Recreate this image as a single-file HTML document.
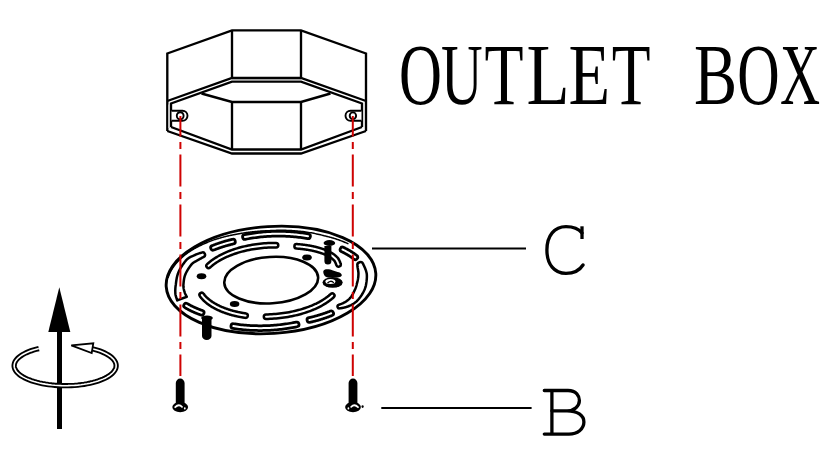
<!DOCTYPE html>
<html><head><meta charset="utf-8"><style>
html,body{margin:0;padding:0;background:#fff;width:837px;height:450px;overflow:hidden}
svg{display:block}

</style></head><body>
<svg width="837" height="450" viewBox="0 0 837 450">
<rect width="837" height="450" fill="#fff"/>

<g fill="none" stroke="#000" stroke-width="2.35" stroke-linejoin="miter">
 <path d="M167.3,131 V53.5 L232,30.3 H301 L366,53.5 V131"/>
 <path d="M232,30 V78 M301,30 V78"/>
 <path d="M167.3,101 L232,78 H301 L366,101"/>
 <path d="M171,127 V103.5 L232,81.6 H301 L362,103.5 V127"/>
 <path d="M232,79.8 H301" stroke="#999" stroke-width="1"/>
 <path d="M169,104.5 V128" stroke="#c8c8c8" stroke-width="1.6"/>
 <path d="M201.5,93.5 L232,102 H301 L330.5,93.5"/>
 <path d="M232,102 V149.5 M301,102 V149.5"/>
 <path d="M171,127 L232,149.5 H301 L362,127"/>
 <path d="M167.3,131 L232,153.5 H301 L366,131"/>
</g>
<g fill="#fff" stroke="#000" stroke-width="1.9">
 <path d="M171.5,110.8 H182.5 A5,5 0 0 1 182.5,120.8 H171.5"/>
 <ellipse cx="180.2" cy="115.8" rx="3.4" ry="3.6" stroke-width="1.9"/>
 <path d="M361.5,110.8 H350.5 A5,5 0 0 0 350.5,120.8 H361.5"/>
 <ellipse cx="352.9" cy="115.8" rx="3.2" ry="3.4" stroke-width="1.9"/>
</g>
<g fill="none" stroke="#000" stroke-linecap="round" stroke-linejoin="round"><ellipse cx="271.0" cy="280.0" rx="105" ry="53.5" transform="rotate(-3.60 271.0 280.0)" fill="#fff" stroke-width="2.9"/><path d="M168.25,277.25 L168.48,276.55 L168.72,275.86 L168.97,275.17 L169.25,274.47 L169.54,273.78 L169.85,273.09 L170.18,272.40 L170.52,271.72 L170.88,271.03 L171.26,270.35 L171.65,269.67 L172.06,268.99 L172.49,268.31 L172.94,267.64 L173.40,266.96 L173.88,266.29 L174.37,265.63 L174.88,264.96 L175.41,264.30 L175.96,263.64 L176.51,262.99 L177.09,262.33 L177.68,261.68 L178.29,261.04 L178.91,260.40 L179.55,259.76 L180.20,259.12 L180.87,258.49 L181.56,257.86 L182.26,257.24 L182.97,256.62 L183.70,256.01 L184.44,255.40 L185.20,254.79 L185.97,254.19 L186.76,253.59 L187.56,253.00 L188.38,252.42 L189.21,251.83 L190.05,251.26 L190.58,250.92 L191.12,250.59 L191.67,250.26 L192.22,249.93 L192.77,249.60 L193.33,249.28 L193.89,248.95 L194.45,248.63 L195.02,248.31 L195.60,248.00 L196.18,247.68 L196.76,247.37 L197.35,247.06 L197.94,246.76 L198.53,246.45 L199.13,246.15 L199.74,245.85 L200.34,245.55 L200.95,245.26 L201.57,244.96 L202.19,244.67 L202.81,244.38 L203.43,244.10 L204.06,243.82 L204.70,243.54 L205.33,243.26 L205.98,242.98 L206.62,242.71 L207.27,242.44 L207.92,242.17 L208.57,241.90 L209.23,241.64 L209.89,241.38 L210.55,241.12 L211.22,240.87 L211.89,240.62 L212.57,240.37 L213.24,240.12 L213.92,239.88 L214.60,239.63 L215.23,239.43 L215.86,239.24 L216.49,239.04 L217.12,238.85 L217.75,238.66 L218.39,238.47 L219.03,238.28 L219.67,238.10 L220.31,237.91 L220.95,237.73 L221.59,237.56 L222.24,237.38 L222.89,237.21 L223.53,237.04 L224.18,236.87 L224.84,236.71 L225.49,236.54 L226.14,236.38 L226.80,236.23 L227.46,236.07 L228.11,235.92 L228.77,235.77 L229.43,235.62 L230.10,235.47 L230.76,235.33 L231.42,235.19 L232.09,235.05 L232.75,234.91 L233.42,234.78 L234.09,234.64 L234.76,234.52 L235.43,234.39 L236.10,234.26 L236.77,234.14 L237.44,234.02 L238.11,233.91 L238.79,233.79 L239.46,233.68 L240.14,233.57 L240.81,233.46 L241.48,233.35 L242.15,233.23 L242.82,233.12 L243.50,233.02 L244.17,232.91 L244.84,232.81 L245.52,232.71 L246.19,232.61 L246.87,232.52 L247.54,232.42 L248.22,232.33 L248.90,232.24 L249.57,232.16 L250.25,232.08 L250.93,232.00 L251.61,231.92 L252.29,231.84 L252.97,231.77 L253.65,231.70 L254.32,231.63 L255.00,231.56 L255.68,231.50 L256.36,231.44 L257.04,231.38 L257.72,231.32 L258.40,231.27 L259.08,231.22 L259.76,231.17 L260.44,231.12 L261.12,231.08 L261.80,231.04 L262.48,231.00 L263.16,230.96 L263.84,230.92 L264.52,230.89 L265.19,230.86 L265.87,230.84 L266.55,230.81 L267.23,230.79 L267.90,230.77 L269.38,230.67 L270.85,230.59 L272.33,230.51 L273.81,230.45 L275.29,230.40 L276.76,230.36 L278.24,230.33 L279.72,230.31 L281.19,230.30 L282.66,230.31 L284.13,230.33 L285.60,230.36 L287.06,230.40 L288.53,230.45 L289.99,230.52 L291.44,230.59 L292.89,230.68 L294.34,230.78 L295.78,230.89 L297.21,231.01 L298.64,231.14 L300.07,231.29 L301.49,231.44 L302.90,231.61 L304.30,231.79 L305.70,231.98 L307.09,232.18 L308.48,232.39 L309.85,232.62 L311.22,232.85 L312.57,233.10 L313.92,233.36 L315.26,233.63 L316.59,233.91 L317.91,234.20 L319.22,234.50 L320.51,234.81 L321.80,235.13 L323.08,235.46 L324.34,235.81 L324.98,235.95 L325.62,236.10 L326.25,236.25 L326.89,236.41 L327.52,236.56 L328.15,236.72 L328.78,236.88 L329.40,237.05 L330.02,237.21 L330.64,237.38 L331.26,237.55 L331.87,237.73 L332.48,237.91 L333.09,238.09 L333.70,238.27 L334.30,238.45 L334.90,238.64 L335.50,238.83 L336.10,239.02 L336.69,239.22 L337.28,239.42 L337.87,239.62 L338.45,239.82 L339.03,240.02 L339.61,240.23 L340.18,240.44 L340.76,240.66 L341.32,240.87 L341.89,241.09 L342.45,241.31 L343.01,241.53 L343.57,241.76 L344.12,241.98 L344.67,242.21 L345.21,242.45 L345.75,242.68 L346.29,242.92 L346.83,243.16 L347.36,243.40 L347.89,243.64" stroke-width="1.5"/><ellipse cx="271.2" cy="280.1" rx="47" ry="23.2" transform="rotate(-3.5 271.2 280.1)" stroke-width="2.6"/><path d="M244.97,236.98 L246.53,236.68 L248.09,236.40 L249.66,236.13 L251.24,235.87 L252.82,235.63 L254.41,235.40 L256.00,235.18 L257.59,234.98 L259.20,234.80 L260.80,234.63 L262.41,234.47 L264.02,234.33 L265.63,234.20 L267.24,234.09 L268.86,233.99 L270.47,233.91 L272.09,233.84 L273.70,233.78 L275.31,233.74 L276.92,233.72 L278.53,233.71 L280.14,233.72 L281.74,233.74 L283.34,233.77 L284.93,233.82 L286.53,233.89 L288.11,233.97 L289.69,234.06 L291.26,234.17 L292.83,234.29 L294.39,234.43 L295.94,234.58 L297.48,234.75 L299.02,234.93 L300.54,235.13 L302.06,235.34 L303.56,235.56 L305.06,235.80 L306.54,236.05 L308.01,236.32" stroke-width="7.5"/><path d="M244.97,236.98 L246.53,236.68 L248.09,236.40 L249.66,236.13 L251.24,235.87 L252.82,235.63 L254.41,235.40 L256.00,235.18 L257.59,234.98 L259.20,234.80 L260.80,234.63 L262.41,234.47 L264.02,234.33 L265.63,234.20 L267.24,234.09 L268.86,233.99 L270.47,233.91 L272.09,233.84 L273.70,233.78 L275.31,233.74 L276.92,233.72 L278.53,233.71 L280.14,233.72 L281.74,233.74 L283.34,233.77 L284.93,233.82 L286.53,233.89 L288.11,233.97 L289.69,234.06 L291.26,234.17 L292.83,234.29 L294.39,234.43 L295.94,234.58 L297.48,234.75 L299.02,234.93 L300.54,235.13 L302.06,235.34 L303.56,235.56 L305.06,235.80 L306.54,236.05 L308.01,236.32" stroke="#fff" stroke-width="2.0"/><path d="M213.04,247.82 L213.51,247.63 L213.98,247.45 L214.45,247.26 L214.93,247.08 L215.40,246.90 L215.88,246.72 L216.36,246.54 L216.84,246.37 L217.32,246.19 L217.80,246.02 L218.29,245.85 L218.78,245.68 L219.26,245.51 L219.75,245.35 L220.24,245.18 L220.74,245.02 L221.23,244.86 L221.73,244.70 L222.22,244.54 L222.72,244.38 L223.22,244.23 L223.72,244.07 L224.22,243.92 L224.73,243.77 L225.23,243.62 L225.74,243.48 L226.25,243.33 L226.75,243.19 L227.26,243.05 L227.77,242.91 L228.29,242.77 L228.80,242.63 L229.31,242.50 L229.83,242.36 L230.34,242.23 L230.86,242.10 L231.38,241.98 L231.90,241.85 L232.42,241.72 L232.94,241.60" stroke-width="7.5"/><path d="M213.04,247.82 L213.51,247.63 L213.98,247.45 L214.45,247.26 L214.93,247.08 L215.40,246.90 L215.88,246.72 L216.36,246.54 L216.84,246.37 L217.32,246.19 L217.80,246.02 L218.29,245.85 L218.78,245.68 L219.26,245.51 L219.75,245.35 L220.24,245.18 L220.74,245.02 L221.23,244.86 L221.73,244.70 L222.22,244.54 L222.72,244.38 L223.22,244.23 L223.72,244.07 L224.22,243.92 L224.73,243.77 L225.23,243.62 L225.74,243.48 L226.25,243.33 L226.75,243.19 L227.26,243.05 L227.77,242.91 L228.29,242.77 L228.80,242.63 L229.31,242.50 L229.83,242.36 L230.34,242.23 L230.86,242.10 L231.38,241.98 L231.90,241.85 L232.42,241.72 L232.94,241.60" stroke="#fff" stroke-width="2.0"/><path d="M186.11,305.61 L186.46,305.82 L186.81,306.03 L187.17,306.23 L187.52,306.44 L187.88,306.64 L188.24,306.84 L188.61,307.04 L188.97,307.24 L189.34,307.44 L189.71,307.63 L190.08,307.83 L190.46,308.02 L190.83,308.21 L191.21,308.40 L191.59,308.59 L191.97,308.77 L192.36,308.96 L192.74,309.14 L193.13,309.32 L193.52,309.50 L193.91,309.68 L194.31,309.86 L194.70,310.03 L195.10,310.21 L195.50,310.38 L195.90,310.55 L196.30,310.72 L196.70,310.89 L197.11,311.05 L197.52,311.22 L197.93,311.38 L198.34,311.54 L198.75,311.70 L199.16,311.86 L199.58,312.02 L200.00,312.17 L200.42,312.33 L200.84,312.48 L201.26,312.63 L201.68,312.78" stroke-width="7.5"/><path d="M186.11,305.61 L186.46,305.82 L186.81,306.03 L187.17,306.23 L187.52,306.44 L187.88,306.64 L188.24,306.84 L188.61,307.04 L188.97,307.24 L189.34,307.44 L189.71,307.63 L190.08,307.83 L190.46,308.02 L190.83,308.21 L191.21,308.40 L191.59,308.59 L191.97,308.77 L192.36,308.96 L192.74,309.14 L193.13,309.32 L193.52,309.50 L193.91,309.68 L194.31,309.86 L194.70,310.03 L195.10,310.21 L195.50,310.38 L195.90,310.55 L196.30,310.72 L196.70,310.89 L197.11,311.05 L197.52,311.22 L197.93,311.38 L198.34,311.54 L198.75,311.70 L199.16,311.86 L199.58,312.02 L200.00,312.17 L200.42,312.33 L200.84,312.48 L201.26,312.63 L201.68,312.78" stroke="#fff" stroke-width="2.0"/><path d="M233.34,326.08 L234.86,326.32 L236.39,326.54 L237.92,326.75 L239.47,326.94 L241.02,327.12 L242.58,327.28 L244.14,327.43 L245.72,327.57 L247.29,327.69 L248.88,327.80 L250.47,327.89 L252.06,327.97 L253.66,328.03 L255.26,328.08 L256.87,328.12 L258.48,328.14 L260.09,328.15 L261.70,328.14 L263.31,328.12 L264.93,328.08 L266.54,328.03 L268.16,327.97 L269.77,327.89 L271.39,327.79 L273.00,327.69 L274.61,327.57 L276.21,327.43 L277.82,327.28 L279.42,327.12 L281.01,326.94 L282.61,326.75 L284.19,326.55 L285.78,326.33 L287.35,326.10 L288.92,325.85 L290.49,325.60 L292.04,325.32 L293.59,325.04 L295.13,324.74 L296.66,324.43" stroke-width="7.5"/><path d="M233.34,326.08 L234.86,326.32 L236.39,326.54 L237.92,326.75 L239.47,326.94 L241.02,327.12 L242.58,327.28 L244.14,327.43 L245.72,327.57 L247.29,327.69 L248.88,327.80 L250.47,327.89 L252.06,327.97 L253.66,328.03 L255.26,328.08 L256.87,328.12 L258.48,328.14 L260.09,328.15 L261.70,328.14 L263.31,328.12 L264.93,328.08 L266.54,328.03 L268.16,327.97 L269.77,327.89 L271.39,327.79 L273.00,327.69 L274.61,327.57 L276.21,327.43 L277.82,327.28 L279.42,327.12 L281.01,326.94 L282.61,326.75 L284.19,326.55 L285.78,326.33 L287.35,326.10 L288.92,325.85 L290.49,325.60 L292.04,325.32 L293.59,325.04 L295.13,324.74 L296.66,324.43" stroke="#fff" stroke-width="2.0"/><path d="M309.39,320.02 L309.96,319.89 L310.53,319.76 L311.10,319.63 L311.67,319.49 L312.24,319.35 L312.80,319.21 L313.37,319.07 L313.93,318.92 L314.49,318.78 L315.05,318.63 L315.61,318.48 L316.17,318.33 L316.73,318.17 L317.29,318.02 L317.84,317.86 L318.39,317.70 L318.95,317.54 L319.50,317.37 L320.05,317.21 L320.59,317.04 L321.14,316.87 L321.68,316.70 L322.23,316.52 L322.77,316.35 L323.31,316.17 L323.84,315.99 L324.38,315.81 L324.91,315.63 L325.45,315.44 L325.98,315.26 L326.51,315.07 L327.03,314.88 L327.56,314.69 L328.08,314.49 L328.60,314.30 L329.12,314.10 L329.64,313.90 L330.16,313.70 L330.67,313.49 L331.18,313.29" stroke-width="7.5"/><path d="M309.39,320.02 L309.96,319.89 L310.53,319.76 L311.10,319.63 L311.67,319.49 L312.24,319.35 L312.80,319.21 L313.37,319.07 L313.93,318.92 L314.49,318.78 L315.05,318.63 L315.61,318.48 L316.17,318.33 L316.73,318.17 L317.29,318.02 L317.84,317.86 L318.39,317.70 L318.95,317.54 L319.50,317.37 L320.05,317.21 L320.59,317.04 L321.14,316.87 L321.68,316.70 L322.23,316.52 L322.77,316.35 L323.31,316.17 L323.84,315.99 L324.38,315.81 L324.91,315.63 L325.45,315.44 L325.98,315.26 L326.51,315.07 L327.03,314.88 L327.56,314.69 L328.08,314.49 L328.60,314.30 L329.12,314.10 L329.64,313.90 L330.16,313.70 L330.67,313.49 L331.18,313.29" stroke="#fff" stroke-width="2.0"/><path d="M342.51,249.50 L342.87,249.67 L343.23,249.84 L343.59,250.01 L343.94,250.19 L344.29,250.37 L344.64,250.54 L344.99,250.72 L345.34,250.90 L345.68,251.08 L346.03,251.27 L346.37,251.45 L346.70,251.64 L347.04,251.82 L347.38,252.01 L347.71,252.20 L348.04,252.39 L348.37,252.58 L348.69,252.77 L349.02,252.97 L349.34,253.16 L349.66,253.36 L349.97,253.56 L350.29,253.75 L350.60,253.95 L350.91,254.16 L351.22,254.36 L351.53,254.56 L351.83,254.77 L352.13,254.97 L352.43,255.18 L352.73,255.39 L353.03,255.60 L353.32,255.81 L353.61,256.02 L353.90,256.23 L354.18,256.45 L354.47,256.66 L354.75,256.88 L355.03,257.10 L355.30,257.31" stroke-width="7.5"/><path d="M342.51,249.50 L342.87,249.67 L343.23,249.84 L343.59,250.01 L343.94,250.19 L344.29,250.37 L344.64,250.54 L344.99,250.72 L345.34,250.90 L345.68,251.08 L346.03,251.27 L346.37,251.45 L346.70,251.64 L347.04,251.82 L347.38,252.01 L347.71,252.20 L348.04,252.39 L348.37,252.58 L348.69,252.77 L349.02,252.97 L349.34,253.16 L349.66,253.36 L349.97,253.56 L350.29,253.75 L350.60,253.95 L350.91,254.16 L351.22,254.36 L351.53,254.56 L351.83,254.77 L352.13,254.97 L352.43,255.18 L352.73,255.39 L353.03,255.60 L353.32,255.81 L353.61,256.02 L353.90,256.23 L354.18,256.45 L354.47,256.66 L354.75,256.88 L355.03,257.10 L355.30,257.31" stroke="#fff" stroke-width="2.0"/><path d="M201.64,252.60 L201.29,252.70 L200.85,252.83 L200.33,252.99 L199.74,253.19 L199.09,253.41 L198.40,253.64 L197.68,253.90 L196.95,254.17 L196.21,254.46 L195.47,254.75 L194.75,255.06 L194.09,255.35 L193.54,255.61 L193.01,255.83 L192.45,256.07 L191.86,256.32 L191.23,256.59 L190.58,256.91 L189.89,257.28 L189.17,257.70 L188.45,258.20 L187.71,258.77 L186.98,259.42 L186.26,260.14 L185.57,260.93 L184.88,261.77 L184.18,262.68 L183.47,263.64 L182.76,264.64 L182.06,265.69 L181.38,266.76 L180.72,267.85 L180.09,268.95 L179.50,270.05 L178.96,271.15 L178.46,272.25 L178.03,273.36 L177.65,274.48 L177.32,275.61 L177.03,276.72 L176.79,277.82 L176.59,278.90 L176.41,279.96 L176.26,280.99 L176.13,281.98 L176.01,282.92 L175.91,283.81 L175.81,284.67 L175.67,285.54 L175.55,286.41 L175.45,287.25 L175.38,288.07 L175.33,288.87 L175.30,289.64 L175.28,290.40 L175.28,291.12 L175.29,291.83 L175.31,292.52 L175.34,293.18 L175.38,293.87 L175.51,294.64 L175.67,295.42 L175.86,296.17 L176.07,296.87 L176.28,297.53 L176.49,298.15 L176.69,298.71 L176.87,299.22 L177.02,299.65 L177.14,300.01 L177.20,300.24 L177.24,300.44 L186.76,296.76 L186.59,296.43 L186.39,296.03 L186.18,295.65 L185.98,295.26 L185.77,294.86 L185.56,294.45 L185.36,294.04 L185.18,293.63 L185.00,293.23 L184.85,292.85 L184.73,292.50 L184.62,292.13 L184.47,291.68 L184.31,291.17 L184.16,290.67 L184.02,290.15 L183.90,289.62 L183.78,289.08 L183.67,288.52 L183.58,287.94 L183.50,287.34 L183.44,286.71 L183.40,286.05 L183.39,285.33 L183.44,284.52 L183.51,283.67 L183.58,282.79 L183.67,281.90 L183.77,281.00 L183.89,280.10 L184.03,279.19 L184.20,278.30 L184.39,277.43 L184.61,276.57 L184.85,275.75 L185.14,274.95 L185.48,274.12 L185.88,273.24 L186.35,272.31 L186.86,271.35 L187.40,270.39 L187.97,269.44 L188.56,268.51 L189.15,267.61 L189.74,266.76 L190.31,265.97 L190.85,265.26 L191.34,264.66 L191.76,264.16 L192.15,263.75 L192.53,263.39 L192.91,263.07 L193.30,262.77 L193.71,262.49 L194.16,262.21 L194.64,261.94 L195.16,261.65 L195.72,261.34 L196.32,261.00 L196.91,260.65 L197.45,260.30 L198.01,259.97 L198.62,259.62 L199.25,259.28 L199.89,258.94 L200.53,258.61 L201.16,258.29 L201.75,257.98 L202.30,257.70 L202.79,257.44 L203.22,257.20 L203.56,257.00 A2.40,2.40 0 0 0 201.64,252.60 Z" fill="#fff" stroke-width="2.5"/><path d="M357.41,265.79 L357.44,266.31 L357.54,266.96 L357.65,267.66 L357.79,268.41 L357.93,269.21 L358.07,270.04 L358.21,270.89 L358.32,271.73 L358.41,272.55 L358.45,273.32 L358.45,274.02 L358.41,274.64 L358.39,275.29 L358.35,276.01 L358.28,276.77 L358.19,277.56 L358.08,278.38 L357.94,279.20 L357.79,280.02 L357.62,280.84 L357.43,281.65 L357.24,282.43 L357.04,283.18 L356.84,283.88 L356.70,284.54 L356.55,285.16 L356.39,285.76 L356.21,286.35 L356.02,286.94 L355.82,287.51 L355.60,288.09 L355.37,288.66 L355.13,289.23 L354.87,289.81 L354.60,290.39 L354.32,290.98 L354.06,291.57 L353.79,292.15 L353.53,292.71 L353.26,293.26 L352.98,293.80 L352.70,294.32 L352.41,294.82 L352.12,295.31 L351.81,295.78 L351.50,296.24 L351.18,296.68 L350.85,297.10 L350.50,297.53 L350.13,297.96 L349.73,298.39 L349.31,298.81 L348.87,299.22 L348.41,299.63 L347.94,300.03 L347.45,300.42 L346.96,300.80 L346.46,301.17 L345.95,301.53 L345.47,301.86 L344.98,302.16 L344.43,302.45 L343.83,302.75 L343.19,303.03 L342.53,303.31 L341.87,303.57 L341.22,303.83 L340.60,304.06 L340.03,304.29 L339.50,304.50 L339.04,304.70 L338.68,304.88 A1.80,1.80 0 0 0 339.72,308.32 L340.08,308.28 L340.52,308.23 L341.07,308.15 L341.69,308.05 L342.37,307.94 L343.09,307.80 L343.85,307.65 L344.63,307.47 L345.42,307.27 L346.21,307.06 L346.99,306.81 L347.73,306.54 L348.43,306.27 L349.10,305.99 L349.78,305.70 L350.46,305.38 L351.14,305.05 L351.82,304.69 L352.50,304.31 L353.17,303.92 L353.83,303.50 L354.48,303.05 L355.13,302.59 L355.75,302.10 L356.35,301.57 L356.93,301.02 L357.48,300.46 L358.02,299.89 L358.53,299.30 L359.03,298.71 L359.50,298.10 L359.97,297.49 L360.41,296.88 L360.85,296.26 L361.27,295.64 L361.68,295.02 L362.06,294.39 L362.44,293.75 L362.81,293.09 L363.18,292.41 L363.55,291.71 L363.91,290.99 L364.25,290.24 L364.59,289.47 L364.91,288.67 L365.21,287.84 L365.50,286.99 L365.76,286.12 L365.94,285.23 L366.11,284.31 L366.27,283.36 L366.41,282.39 L366.55,281.39 L366.66,280.38 L366.75,279.35 L366.82,278.32 L366.87,277.28 L366.88,276.25 L366.86,275.21 L366.79,274.16 L366.60,273.07 L366.34,271.99 L366.04,270.94 L365.71,269.93 L365.35,268.96 L364.99,268.03 L364.63,267.17 L364.27,266.37 L363.94,265.67 L363.65,265.06 L363.40,264.59 L363.19,264.21 A3.00,3.00 0 0 0 357.41,265.79 Z" fill="#fff" stroke-width="2.5"/><path d="M208.61,265.83 L209.66,264.89 L210.76,263.96 L211.91,263.05 L213.11,262.15 L214.35,261.27 L215.64,260.41 L216.97,259.57 L218.34,258.74 L219.75,257.93 L221.21,257.15 L222.70,256.38 L224.23,255.64 L225.79,254.91 L227.39,254.21 L229.02,253.54 L230.69,252.88 L232.38,252.25 L234.10,251.65 L235.85,251.07 L237.63,250.51 L239.43,249.98 L241.25,249.48 L243.09,249.01 L244.95,248.56 L246.83,248.13 L248.73,247.74 L250.64,247.37 L252.56,247.03 L254.49,246.72 L256.44,246.44 L258.39,246.18 L260.35,245.96 L262.31,245.76 L264.28,245.59 L266.24,245.45 L268.21,245.34 L270.18,245.26 L272.14,245.21 L274.09,245.19 L276.04,245.20" stroke-width="7.0"/><path d="M208.61,265.83 L209.66,264.89 L210.76,263.96 L211.91,263.05 L213.11,262.15 L214.35,261.27 L215.64,260.41 L216.97,259.57 L218.34,258.74 L219.75,257.93 L221.21,257.15 L222.70,256.38 L224.23,255.64 L225.79,254.91 L227.39,254.21 L229.02,253.54 L230.69,252.88 L232.38,252.25 L234.10,251.65 L235.85,251.07 L237.63,250.51 L239.43,249.98 L241.25,249.48 L243.09,249.01 L244.95,248.56 L246.83,248.13 L248.73,247.74 L250.64,247.37 L252.56,247.03 L254.49,246.72 L256.44,246.44 L258.39,246.18 L260.35,245.96 L262.31,245.76 L264.28,245.59 L266.24,245.45 L268.21,245.34 L270.18,245.26 L272.14,245.21 L274.09,245.19 L276.04,245.20" stroke="#fff" stroke-width="2.0"/><path d="M296.65,246.31 L297.12,246.34 L297.59,246.38 L298.06,246.41 L298.53,246.45 L299.00,246.49 L299.47,246.53 L299.93,246.58 L300.40,246.62 L300.87,246.67 L301.34,246.72 L301.80,246.77 L302.27,246.82 L302.74,246.87 L303.20,246.93 L303.67,246.99 L304.13,247.05 L304.59,247.11 L305.06,247.17 L305.52,247.24 L305.98,247.30 L306.44,247.37 L306.90,247.44 L307.36,247.52 L307.82,247.59 L308.28,247.66 L308.73,247.74 L309.19,247.82 L309.64,247.90 L310.10,247.99 L310.55,248.07 L311.00,248.16 L311.45,248.25 L311.90,248.34 L312.35,248.43 L312.80,248.52 L313.24,248.62 L313.69,248.72 L314.13,248.82 L314.58,248.92 L315.02,249.02 L315.31,249.09 L315.60,249.17 L315.88,249.24 L316.17,249.32 L316.46,249.39 L316.74,249.47 L317.03,249.55 L317.31,249.63 L317.59,249.70 L317.88,249.78 L318.16,249.87 L318.44,249.95 L318.72,250.03 L319.00,250.11 L319.28,250.20 L319.56,250.28 L319.84,250.37 L320.12,250.45 L320.39,250.54 L320.67,250.63 L320.94,250.71 L321.22,250.80 L321.49,250.89 L321.76,250.98 L322.04,251.08 L322.31,251.17 L322.58,251.26 L322.85,251.35 L323.12,251.45 L323.38,251.54 L323.65,251.64 L323.92,251.74 L324.18,251.83 L324.45,251.93 L324.71,252.03 L324.97,252.13 L325.24,252.23 L325.50,252.33 L325.76,252.43 L326.02,252.54 L326.18,252.61 L326.35,252.69 L326.51,252.77 L326.68,252.85 L326.85,252.93 L327.01,253.01 L327.17,253.09 L327.34,253.17 L327.50,253.26 L327.66,253.34 L327.82,253.42 L327.98,253.50 L328.14,253.58 L328.30,253.67 L328.46,253.75 L328.62,253.83 L328.78,253.92 L328.94,254.00 L329.10,254.08 L329.25,254.17 L329.41,254.25 L329.56,254.34 L329.72,254.42 L329.87,254.51 L330.03,254.60 L330.18,254.68 L330.33,254.77 L330.49,254.86 L330.64,254.94 L330.79,255.03 L330.94,255.12 L331.09,255.21 L331.24,255.30 L331.39,255.38 L331.54,255.47 L331.68,255.56 L331.83,255.65 L331.98,255.74 L332.12,255.83 L332.27,255.92 L332.38,256.01 L332.49,256.09 L332.59,256.18 L332.70,256.26 L332.81,256.35 L332.92,256.43 L333.02,256.52 L333.13,256.60 L333.23,256.69 L333.34,256.78 L333.44,256.86 L333.55,256.95 L333.65,257.04 L333.75,257.12 L333.85,257.21 L333.96,257.30 L334.06,257.38 L334.16,257.47 L334.26,257.56 L334.36,257.65 L334.46,257.74 L334.55,257.82 L334.65,257.91 L334.75,258.00 L334.85,258.09 L334.94,258.18 L335.04,258.27 L335.13,258.36 L335.23,258.44 L335.32,258.53 L335.42,258.62 L335.51,258.71 L335.60,258.80 L335.70,258.89 L335.79,258.98 L335.88,259.07 L335.97,259.16 L336.06,259.25 L336.15,259.34 L336.24,259.43 L336.31,259.56 L336.39,259.68 L336.46,259.81 L336.53,259.93 L336.60,260.06 L336.68,260.18 L336.74,260.31 L336.81,260.44 L336.88,260.56 L336.95,260.69 L337.01,260.81 L337.08,260.94 L337.14,261.06 L337.20,261.19 L337.27,261.32 L337.33,261.44 L337.39,261.57 L337.45,261.69 L337.50,261.82 L337.56,261.95 L337.62,262.07 L337.67,262.20 L337.73,262.33 L337.78,262.45 L337.83,262.58 L337.88,262.71 L337.93,262.83 L337.98,262.96 L338.03,263.09 L338.08,263.21 L338.13,263.34 L338.17,263.47 L338.22,263.59 L338.26,263.72 L338.30,263.85 L338.34,263.97 L338.39,264.10 L338.43,264.23 L338.46,264.36 L338.50,264.48" stroke-width="7.0"/><path d="M296.65,246.31 L297.12,246.34 L297.59,246.38 L298.06,246.41 L298.53,246.45 L299.00,246.49 L299.47,246.53 L299.93,246.58 L300.40,246.62 L300.87,246.67 L301.34,246.72 L301.80,246.77 L302.27,246.82 L302.74,246.87 L303.20,246.93 L303.67,246.99 L304.13,247.05 L304.59,247.11 L305.06,247.17 L305.52,247.24 L305.98,247.30 L306.44,247.37 L306.90,247.44 L307.36,247.52 L307.82,247.59 L308.28,247.66 L308.73,247.74 L309.19,247.82 L309.64,247.90 L310.10,247.99 L310.55,248.07 L311.00,248.16 L311.45,248.25 L311.90,248.34 L312.35,248.43 L312.80,248.52 L313.24,248.62 L313.69,248.72 L314.13,248.82 L314.58,248.92 L315.02,249.02 L315.31,249.09 L315.60,249.17 L315.88,249.24 L316.17,249.32 L316.46,249.39 L316.74,249.47 L317.03,249.55 L317.31,249.63 L317.59,249.70 L317.88,249.78 L318.16,249.87 L318.44,249.95 L318.72,250.03 L319.00,250.11 L319.28,250.20 L319.56,250.28 L319.84,250.37 L320.12,250.45 L320.39,250.54 L320.67,250.63 L320.94,250.71 L321.22,250.80 L321.49,250.89 L321.76,250.98 L322.04,251.08 L322.31,251.17 L322.58,251.26 L322.85,251.35 L323.12,251.45 L323.38,251.54 L323.65,251.64 L323.92,251.74 L324.18,251.83 L324.45,251.93 L324.71,252.03 L324.97,252.13 L325.24,252.23 L325.50,252.33 L325.76,252.43 L326.02,252.54 L326.18,252.61 L326.35,252.69 L326.51,252.77 L326.68,252.85 L326.85,252.93 L327.01,253.01 L327.17,253.09 L327.34,253.17 L327.50,253.26 L327.66,253.34 L327.82,253.42 L327.98,253.50 L328.14,253.58 L328.30,253.67 L328.46,253.75 L328.62,253.83 L328.78,253.92 L328.94,254.00 L329.10,254.08 L329.25,254.17 L329.41,254.25 L329.56,254.34 L329.72,254.42 L329.87,254.51 L330.03,254.60 L330.18,254.68 L330.33,254.77 L330.49,254.86 L330.64,254.94 L330.79,255.03 L330.94,255.12 L331.09,255.21 L331.24,255.30 L331.39,255.38 L331.54,255.47 L331.68,255.56 L331.83,255.65 L331.98,255.74 L332.12,255.83 L332.27,255.92 L332.38,256.01 L332.49,256.09 L332.59,256.18 L332.70,256.26 L332.81,256.35 L332.92,256.43 L333.02,256.52 L333.13,256.60 L333.23,256.69 L333.34,256.78 L333.44,256.86 L333.55,256.95 L333.65,257.04 L333.75,257.12 L333.85,257.21 L333.96,257.30 L334.06,257.38 L334.16,257.47 L334.26,257.56 L334.36,257.65 L334.46,257.74 L334.55,257.82 L334.65,257.91 L334.75,258.00 L334.85,258.09 L334.94,258.18 L335.04,258.27 L335.13,258.36 L335.23,258.44 L335.32,258.53 L335.42,258.62 L335.51,258.71 L335.60,258.80 L335.70,258.89 L335.79,258.98 L335.88,259.07 L335.97,259.16 L336.06,259.25 L336.15,259.34 L336.24,259.43 L336.31,259.56 L336.39,259.68 L336.46,259.81 L336.53,259.93 L336.60,260.06 L336.68,260.18 L336.74,260.31 L336.81,260.44 L336.88,260.56 L336.95,260.69 L337.01,260.81 L337.08,260.94 L337.14,261.06 L337.20,261.19 L337.27,261.32 L337.33,261.44 L337.39,261.57 L337.45,261.69 L337.50,261.82 L337.56,261.95 L337.62,262.07 L337.67,262.20 L337.73,262.33 L337.78,262.45 L337.83,262.58 L337.88,262.71 L337.93,262.83 L337.98,262.96 L338.03,263.09 L338.08,263.21 L338.13,263.34 L338.17,263.47 L338.22,263.59 L338.26,263.72 L338.30,263.85 L338.34,263.97 L338.39,264.10 L338.43,264.23 L338.46,264.36 L338.50,264.48" stroke="#fff" stroke-width="2.0"/><path d="M201.73,294.95 L202.05,295.39 L202.37,295.82 L202.71,296.24 L203.06,296.67 L203.42,297.09 L203.79,297.51 L204.17,297.92 L204.56,298.33 L204.96,298.74 L205.38,299.15 L205.80,299.55 L206.23,299.95 L206.68,300.34 L207.13,300.73 L207.59,301.12 L208.07,301.51 L208.55,301.89 L209.05,302.27 L209.55,302.64 L210.06,303.01 L210.59,303.37 L211.12,303.74 L211.66,304.09 L212.21,304.45 L212.77,304.80 L213.34,305.14 L213.92,305.48 L214.51,305.82 L215.11,306.15 L215.71,306.48 L216.33,306.80 L216.95,307.12 L217.58,307.43 L218.22,307.74 L218.87,308.05 L219.53,308.35 L220.19,308.64 L220.86,308.94 L221.54,309.22 L222.23,309.50 L222.74,309.71 L223.26,309.92 L223.78,310.12 L224.31,310.33 L224.83,310.52 L225.37,310.72 L225.91,310.91 L226.45,311.10 L226.99,311.29 L227.54,311.48 L228.10,311.66 L228.65,311.84 L229.21,312.01 L229.78,312.19 L230.35,312.36 L230.92,312.53 L231.49,312.69 L232.07,312.85 L232.66,313.01 L233.24,313.17 L233.83,313.32 L234.42,313.47 L235.02,313.61 L235.62,313.76 L236.22,313.90 L236.82,314.03 L237.43,314.17 L238.04,314.30 L238.66,314.43 L239.27,314.55 L239.89,314.67 L240.51,314.79 L241.14,314.91 L241.77,315.02 L242.40,315.13 L243.03,315.23 L243.66,315.34 L244.30,315.43 L244.94,315.53 L245.58,315.62" stroke-width="7.0"/><path d="M201.73,294.95 L202.05,295.39 L202.37,295.82 L202.71,296.24 L203.06,296.67 L203.42,297.09 L203.79,297.51 L204.17,297.92 L204.56,298.33 L204.96,298.74 L205.38,299.15 L205.80,299.55 L206.23,299.95 L206.68,300.34 L207.13,300.73 L207.59,301.12 L208.07,301.51 L208.55,301.89 L209.05,302.27 L209.55,302.64 L210.06,303.01 L210.59,303.37 L211.12,303.74 L211.66,304.09 L212.21,304.45 L212.77,304.80 L213.34,305.14 L213.92,305.48 L214.51,305.82 L215.11,306.15 L215.71,306.48 L216.33,306.80 L216.95,307.12 L217.58,307.43 L218.22,307.74 L218.87,308.05 L219.53,308.35 L220.19,308.64 L220.86,308.94 L221.54,309.22 L222.23,309.50 L222.74,309.71 L223.26,309.92 L223.78,310.12 L224.31,310.33 L224.83,310.52 L225.37,310.72 L225.91,310.91 L226.45,311.10 L226.99,311.29 L227.54,311.48 L228.10,311.66 L228.65,311.84 L229.21,312.01 L229.78,312.19 L230.35,312.36 L230.92,312.53 L231.49,312.69 L232.07,312.85 L232.66,313.01 L233.24,313.17 L233.83,313.32 L234.42,313.47 L235.02,313.61 L235.62,313.76 L236.22,313.90 L236.82,314.03 L237.43,314.17 L238.04,314.30 L238.66,314.43 L239.27,314.55 L239.89,314.67 L240.51,314.79 L241.14,314.91 L241.77,315.02 L242.40,315.13 L243.03,315.23 L243.66,315.34 L244.30,315.43 L244.94,315.53 L245.58,315.62" stroke="#fff" stroke-width="2.0"/><path d="M266.06,316.68 L268.03,316.64 L270.01,316.57 L271.99,316.47 L273.96,316.35 L275.94,316.20 L277.90,316.02 L279.87,315.81 L281.82,315.57 L283.77,315.31 L285.71,315.02 L287.63,314.70 L289.54,314.36 L291.44,313.99 L293.32,313.60 L295.18,313.18 L297.02,312.73 L298.85,312.26 L300.65,311.77 L302.43,311.25 L304.18,310.70 L305.91,310.14 L307.61,309.55 L309.28,308.94 L310.92,308.30 L312.53,307.65 L314.11,306.97 L315.66,306.27 L317.17,305.56 L318.64,304.82 L320.08,304.07 L321.48,303.29 L322.84,302.50 L324.16,301.70 L325.44,300.87 L326.68,300.03 L327.88,299.18 L329.03,298.31 L330.13,297.43 L331.20,296.53 L332.21,295.62" stroke-width="7.0"/><path d="M266.06,316.68 L268.03,316.64 L270.01,316.57 L271.99,316.47 L273.96,316.35 L275.94,316.20 L277.90,316.02 L279.87,315.81 L281.82,315.57 L283.77,315.31 L285.71,315.02 L287.63,314.70 L289.54,314.36 L291.44,313.99 L293.32,313.60 L295.18,313.18 L297.02,312.73 L298.85,312.26 L300.65,311.77 L302.43,311.25 L304.18,310.70 L305.91,310.14 L307.61,309.55 L309.28,308.94 L310.92,308.30 L312.53,307.65 L314.11,306.97 L315.66,306.27 L317.17,305.56 L318.64,304.82 L320.08,304.07 L321.48,303.29 L322.84,302.50 L324.16,301.70 L325.44,300.87 L326.68,300.03 L327.88,299.18 L329.03,298.31 L330.13,297.43 L331.20,296.53 L332.21,295.62" stroke="#fff" stroke-width="2.0"/></g><ellipse cx="201.5" cy="276.3" rx="4.8" ry="3" fill="#000"/><ellipse cx="234.6" cy="304" rx="4.8" ry="3" fill="#000"/><ellipse cx="307" cy="257.6" rx="4.8" ry="3" fill="#000"/>
<g fill="#000">
 <path d="M324.4,246 H331.4 V261 A3.5,3.5 0 0 1 324.4,261 Z"/>
 <ellipse cx="329.4" cy="243" rx="5.8" ry="3"/>
 <path d="M202,318 H211.5 V336 A4.75,4 0 0 1 202,336 Z"/>
 <ellipse cx="207" cy="318" rx="5.8" ry="2.6"/>
</g>
<g fill="#000">
 <path d="M323.3,271.2 C323.6,268.6 329.5,268.6 333,270.6 C337,272.2 341.8,272.3 341.8,275.3 C341.8,277.6 336,277.8 332.5,277.4 L328,277.6 C324.8,277.2 323,273.8 323.3,271.2 Z"/>
 <ellipse cx="332.6" cy="282.4" rx="10.1" ry="5.3"/>
 <ellipse cx="330.4" cy="281.5" rx="5" ry="2.5" fill="#fff"/>
 <path d="M327.5,283.2 C329,280.8 332,280.6 333.8,282.8" stroke="#000" stroke-width="1.3" fill="none"/>
</g>
<path d="M180.4,116 V376" stroke="#cf0202" stroke-width="2" fill="none" stroke-dasharray="32 5.5 7 5.5" stroke-dashoffset="-38.5"/><path d="M352.8,116 V376" stroke="#cf0202" stroke-width="2" fill="none" stroke-dasharray="32 5.5 7 5.5" stroke-dashoffset="-38.5"/><g>
 <path d="M175.79999999999998,383 A4.4,4.4 0 0 1 184.6,383 V404 H175.79999999999998 Z" fill="#000"/>
 <ellipse cx="180.2" cy="407.1" rx="7.9" ry="5.1" fill="#000"/>
 <path d="M182.0,406.8 Q178.7,403.6 175.2,407.2" stroke="#fff" stroke-width="1.8" fill="none" stroke-linecap="round"/>
 <ellipse cx="184.79999999999998" cy="408.4" rx="0.9" ry="1.1" fill="#fff"/>
</g><g>
 <path d="M348.6,383 A4.4,4.4 0 0 1 357.4,383 V404 H348.6 Z" fill="#000"/>
 <ellipse cx="353.0" cy="407.1" rx="7.9" ry="5.1" fill="#000"/>
 <path d="M351.2,406.8 Q354.5,403.6 358.0,407.2" stroke="#fff" stroke-width="1.8" fill="none" stroke-linecap="round"/>
 <ellipse cx="348.4" cy="408.4" rx="0.9" ry="1.1" fill="#fff"/>
</g><ellipse cx="362.6" cy="406.6" rx="1.1" ry="1.4" fill="#000"/><path d="M372,248.5 H526 M381.3,408 H531.6" stroke="#000" stroke-width="1.8"/>
<g>
 <path d="M57,332 H62 V429 H57 Z" fill="#000"/>
 <path d="M59.3,287.3 L48.3,332 H70.3 Z" fill="#000"/>
</g>
<path d="M38.88,348.56 L36.11,349.26 L33.45,350.03 L30.93,350.87 L28.56,351.77 L26.33,352.73 L24.27,353.74 L22.38,354.80 L20.67,355.91 L19.15,357.06 L17.82,358.25 L16.69,359.47 L15.76,360.71 L15.04,361.97 L14.53,363.25 L14.24,364.54 L14.15,365.84 L14.28,367.13 L14.62,368.42 L15.18,369.70 L15.95,370.96 L16.92,372.20 L18.09,373.41 L19.46,374.59 L21.03,375.73 L22.78,376.83 L24.70,377.88 L26.80,378.88 L29.06,379.83 L31.46,380.72 L34.01,381.54 L36.70,382.30 L39.50,382.99 L42.40,383.60 L45.41,384.14 L48.49,384.60 L51.65,384.99 L54.86,385.29 L58.12,385.51 L61.40,385.65 L64.70,385.70 L68.01,385.67 L71.30,385.55 L74.56,385.36 L77.79,385.08 L80.96,384.71 L84.07,384.27 L87.10,383.75 L90.03,383.16 L92.86,382.49 L95.58,381.75 L98.16,380.94 L100.61,380.07 L102.91,379.14 L105.05,378.16 L107.02,377.12 L108.82,376.03 L110.43,374.90 L111.86,373.73 L113.09,372.53 L114.11,371.30 L114.93,370.04 L115.55,368.77 L115.95,367.48 L116.13,366.19 L116.11,364.89 L115.87,363.60 L115.42,362.32 L114.75,361.05 L113.88,359.80 L112.80,358.57 L111.53,357.38 L110.05,356.22 L108.39,355.10 L106.55,354.02 L104.54,353.00 L102.36,352.02 L100.02,351.11 L97.54,350.25 L94.92,349.46 L92.18,348.74" fill="none" stroke="#000" stroke-width="5.3"/><path d="M38.88,348.56 L36.11,349.26 L33.45,350.03 L30.93,350.87 L28.56,351.77 L26.33,352.73 L24.27,353.74 L22.38,354.80 L20.67,355.91 L19.15,357.06 L17.82,358.25 L16.69,359.47 L15.76,360.71 L15.04,361.97 L14.53,363.25 L14.24,364.54 L14.15,365.84 L14.28,367.13 L14.62,368.42 L15.18,369.70 L15.95,370.96 L16.92,372.20 L18.09,373.41 L19.46,374.59 L21.03,375.73 L22.78,376.83 L24.70,377.88 L26.80,378.88 L29.06,379.83 L31.46,380.72 L34.01,381.54 L36.70,382.30 L39.50,382.99 L42.40,383.60 L45.41,384.14 L48.49,384.60 L51.65,384.99 L54.86,385.29 L58.12,385.51 L61.40,385.65 L64.70,385.70 L68.01,385.67 L71.30,385.55 L74.56,385.36 L77.79,385.08 L80.96,384.71 L84.07,384.27 L87.10,383.75 L90.03,383.16 L92.86,382.49 L95.58,381.75 L98.16,380.94 L100.61,380.07 L102.91,379.14 L105.05,378.16 L107.02,377.12 L108.82,376.03 L110.43,374.90 L111.86,373.73 L113.09,372.53 L114.11,371.30 L114.93,370.04 L115.55,368.77 L115.95,367.48 L116.13,366.19 L116.11,364.89 L115.87,363.60 L115.42,362.32 L114.75,361.05 L113.88,359.80 L112.80,358.57 L111.53,357.38 L110.05,356.22 L108.39,355.10 L106.55,354.02 L104.54,353.00 L102.36,352.02 L100.02,351.11 L97.54,350.25 L94.92,349.46 L92.18,348.74" fill="none" stroke="#fff" stroke-width="1.6"/><path d="M71.3,345.4 L93.3,343.3 L91.7,353 Z" fill="#fff" stroke="#000" stroke-width="1.8" stroke-linejoin="miter"/><g font-family="Liberation Serif" font-size="87.2" fill="#000"><text x="0" y="0" transform="translate(420.42,104.3) scale(0.6819,1)" text-anchor="middle">O</text><text x="0" y="0" transform="translate(461.93,104.3) scale(0.6619,1)" text-anchor="middle">U</text><text x="0" y="0" transform="translate(504.12,104.3) scale(0.7323,1)" text-anchor="middle">T</text><text x="0" y="0" transform="translate(548.05,104.3) scale(0.8096,1)" text-anchor="middle">L</text><text x="0" y="0" transform="translate(589.23,104.3) scale(0.7813,1)" text-anchor="middle">E</text><text x="0" y="0" transform="translate(631.03,104.3) scale(0.7277,1)" text-anchor="middle">T</text><text x="0" y="0" transform="translate(715.48,104.3) scale(0.7402,1)" text-anchor="middle">B</text><text x="0" y="0" transform="translate(758.50,104.3) scale(0.6730,1)" text-anchor="middle">O</text><text x="0" y="0" transform="translate(800.14,104.3) scale(0.6370,1)" text-anchor="middle">X</text></g><g fill="none" stroke="#000" stroke-width="3.3" stroke-linecap="round">
 <path d="M582,233 C578.5,228.5 572,226.6 566,226.6 C554.5,226.6 546.9,235.5 546.9,250 C546.9,264.5 554.5,273.4 566,273.4 C573,273.4 579.5,270.5 583,265"/>
 <path d="M582,226.3 V239" stroke-linecap="butt"/>
 <path d="M544.3,390.5 H568 C576.5,390.5 579.4,396 579.4,400.6 C579.4,406 574.5,410.8 567,410.8 H551.9 M567,410.8 C577.5,410.8 583.9,415.5 583.9,422 C583.9,429 577.5,434.1 569,434.1 H544.3"/>
 <path d="M551.9,390.5 V434" stroke-linecap="butt"/>
</g>
</svg></body></html>
